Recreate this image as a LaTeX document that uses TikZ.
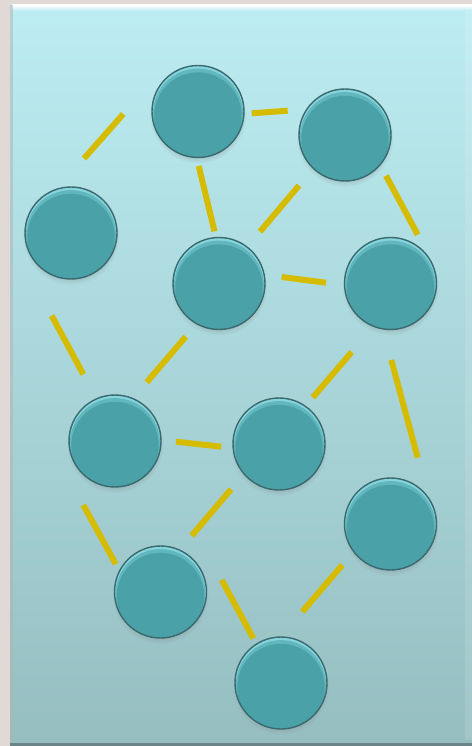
\documentclass[tikz,border=0pt]{standalone}
\usetikzlibrary{shadows}
\definecolor{cpage}{HTML}{E0D9D5}
\definecolor{cpaneltop}{HTML}{BCEDF2}
\definecolor{cpanelbot}{HTML}{96BEC1}
\definecolor{cteal}{HTML}{4BA1A8}
\definecolor{ctealmid}{HTML}{62B6BE}
\definecolor{ctealhi}{HTML}{86D5DD}
\definecolor{ctealedge}{HTML}{3A6A6F}
\definecolor{cgold}{HTML}{D6BC00}
\tikzset{
  ball/.style={circle, minimum size=1.84cm, inner sep=0pt, fill=cteal, draw=ctealedge, line width=0.8pt,
    circular drop shadow={shadow xshift=0pt, shadow yshift=-2pt, shadow scale=1.05, opacity=0.3},
    path picture={
      \fill[ctealhi] (path picture bounding box.center) circle[radius=0.92cm];
      \fill[ctealmid] ([yshift=-1.2pt]path picture bounding box.center) circle[radius=0.90cm];
      \fill[cteal] ([yshift=-2.6pt]path picture bounding box.center) circle[radius=0.875cm];
    }},
  link/.style={draw=cgold, line width=0.12cm, line cap=butt},
}

\begin{document}
\begin{tikzpicture}[x=0.02cm, y=-0.02cm]
  % page and panel
  \fill[cpage] (0,0) rectangle (472,746);
  \useasboundingbox (0,0) rectangle (472,746);
  \shade[top color=cpaneltop, bottom color=cpanelbot] (10,5) rectangle (472,744);
  \shade[top color=white, bottom color=cpaneltop] (12,5) rectangle (472,11);
  \fill[black!30, opacity=0.5] (10,5) rectangle (12.5,744);
  \fill[white, opacity=0.12] (465,11) rectangle (472,740);
  \fill[cpanelbot!70!black] (10,742.5) rectangle (472,746);
  % balls
  \foreach \n/\x/\y in {1/198/111.5, 2/345/135, 3/71/233, 4/219/283.5, 5/390.5/283.5,
                        6/115/441, 7/279/444, 8/390.5/524, 9/160.5/592, 10/281/683} {
    \node[ball] (c\n) at (\x, \y) {};
  }
  % links between the balls, with gaps
  \foreach \a/\ax/\ay/\b/\bx/\by in {3/13/-74.5/1/-74.7/2.5, 1/53.7/1.8/2/-57.3/-24.3, 1/0.7/54.5/4/-4.5/-52.2,
      4/41/-51.8/2/-46/50.5, 2/41/40.7/5/27.2/-48.8, 4/62.7/-6.5/5/-64.5/-0.8, 3/-19.3/82.7/6/-31.7/-66.7,
      6/31.7/-58.7/4/-33.3/53.2, 7/33.8/-46.5/5/-38.8/68.5, 5/0.8/76.5/8/27.2/-66.3, 6/61/0.7/7/-57.7/2.7,
      6/-31.7/64/9/-44.8/-28, 9/31.2/-56.3/7/-48/45.3, 10/21.3/-71.3/8/-48.2/41, 9/61.2/-12/10/-27.7/-44.7} {
    \draw[link] ([shift={(\ax,\ay)}]c\a.center) -- ([shift={(\bx,\by)}]c\b.center);
  }
\end{tikzpicture}
\end{document}
